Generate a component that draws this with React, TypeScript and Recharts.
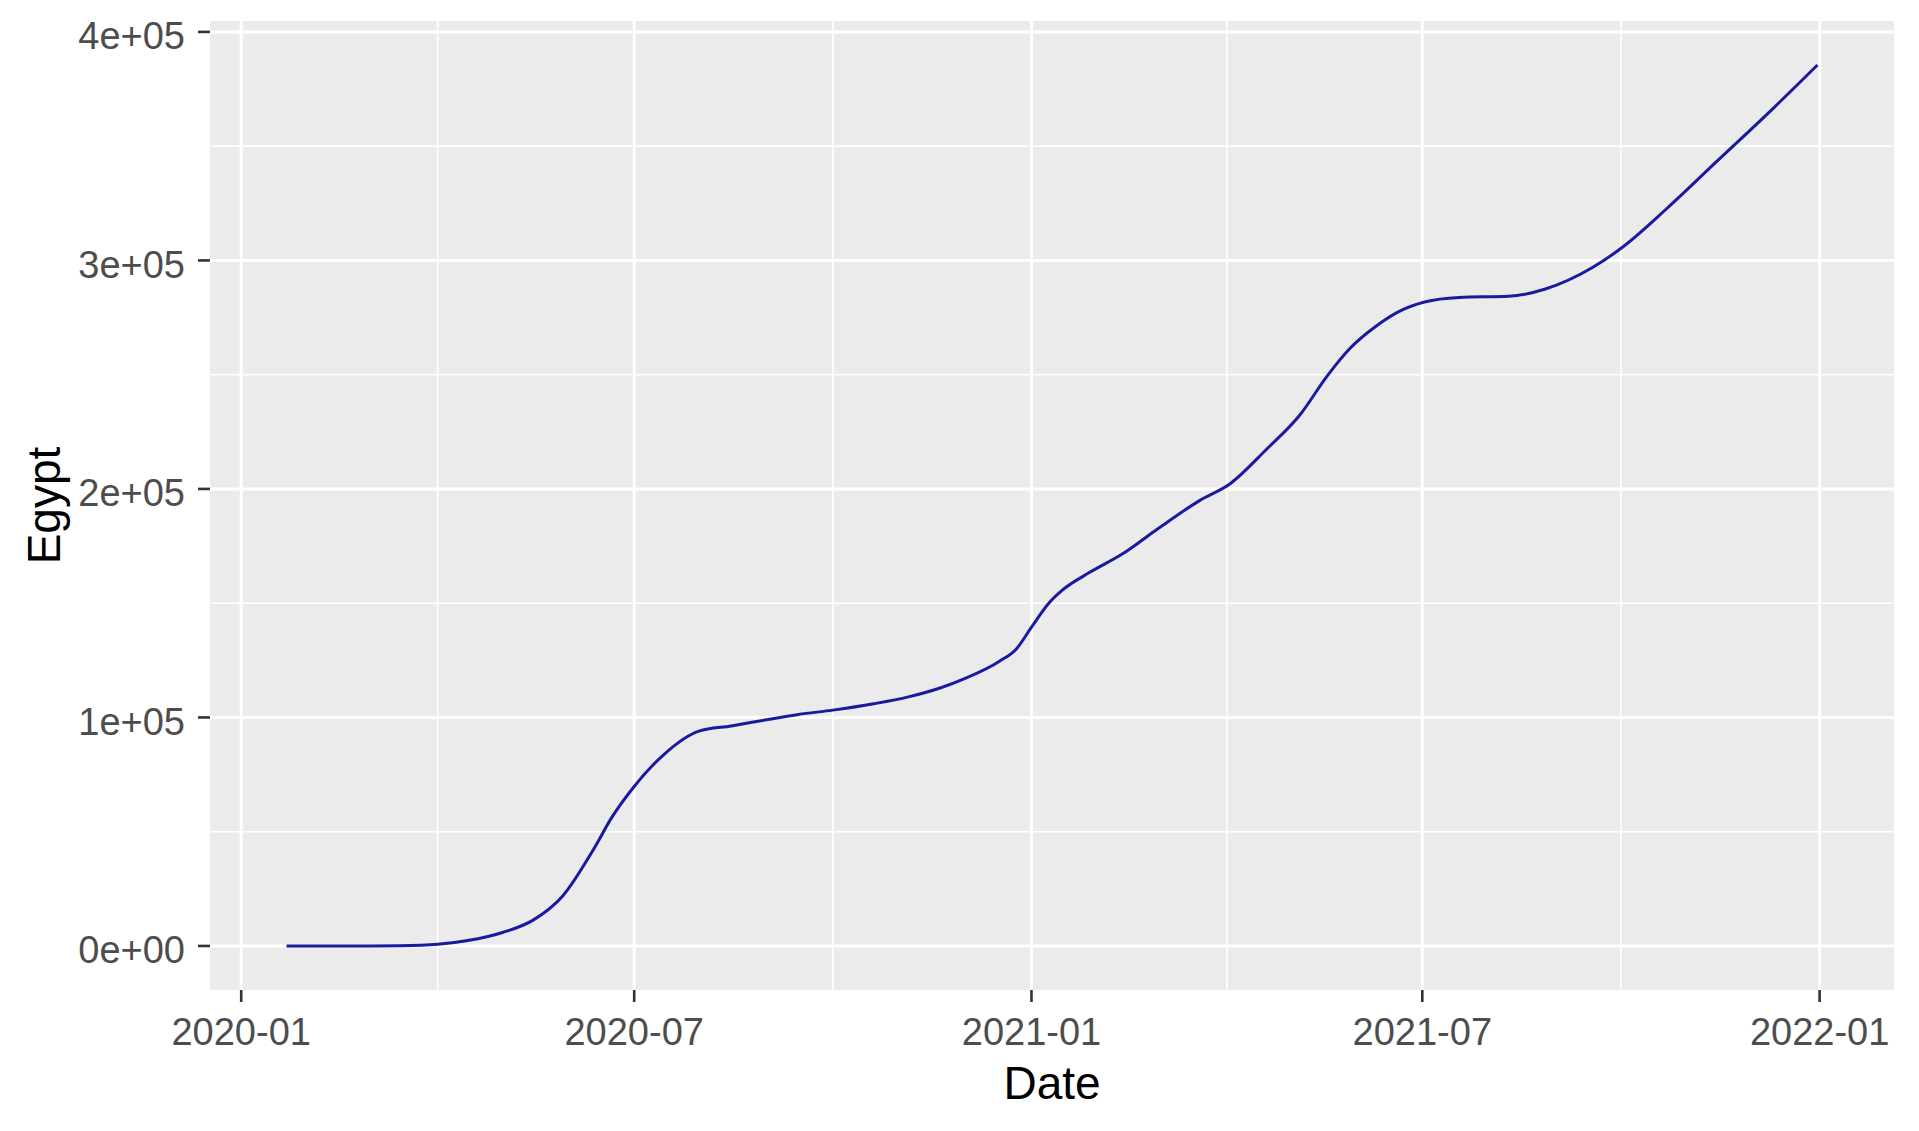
import { LineChart, Line, XAxis, YAxis, CartesianGrid } from 'recharts';

const FONT = '"Liberation Sans", Arial, sans-serif';

// cumulative cases
const dates = [
  '2020-01-22', '2020-02-14', '2020-03-01', '2020-03-14', '2020-04-01', '2020-04-15',
  '2020-05-01', '2020-05-15', '2020-05-29', '2020-06-12', '2020-06-21', '2020-07-01',
  '2020-07-15', '2020-07-31', '2020-08-15', '2020-09-01', '2020-09-15', '2020-10-01',
  '2020-10-20', '2020-11-05', '2020-11-20', '2020-12-01', '2020-12-17', '2020-12-25',
  '2021-01-01', '2021-01-09', '2021-01-15', '2021-01-28', '2021-02-12', '2021-03-01',
  '2021-03-20', '2021-04-03', '2021-04-20', '2021-05-05', '2021-05-18', '2021-05-28',
  '2021-06-10', '2021-06-21', '2021-07-02', '2021-07-18', '2021-08-10', '2021-08-27',
  '2021-09-18', '2021-10-02', '2021-10-22', '2021-11-14', '2021-12-11', '2021-12-31',
];
const cases = [
  0, 1, 2, 93, 710, 2350,
  5900, 11200, 22000, 42000, 56800, 69800,
  84000, 94000, 96300, 99100, 101300, 103200,
  106000, 109000, 113000, 117000, 124500, 130000,
  139500, 150000, 155500, 163500, 171500, 182900,
  195000, 202300, 217500, 232000, 249500, 261000,
  271500, 278000, 281800, 283800, 284300, 287500,
  297000, 306000, 322500, 343000, 367000, 385500,
];

const dateTicks = ['2020-01-01', '2020-07-01', '2021-01-01', '2021-07-01', '2022-01-01'];
const caseTicks = [0, 100000, 200000, 300000, 400000];

const toTime = (d: string) => Date.parse(d + 'T00:00:00Z');

const data = dates.map((d, i) => ({ date: toTime(d), egypt: cases[i] }));

const xMajor = dateTicks.map(toTime);
const xMinor = xMajor.slice(1).map((t, i) => (t + xMajor[i]) / 2);
const yMinor = caseTicks.slice(1).map((v, i) => (v + caseTicks[i]) / 2);

// ggplot-style 5% expansion
const tMin = data[0].date;
const tMax = data[data.length - 1].date;
const xPad = (tMax - tMin) * 0.05;
const yMin = Math.min(...cases);
const yMax = Math.max(...cases);
const yPad = (yMax - yMin) * 0.05;

function sci(v: number) {
  if (v === 0) return '0e+00';
  const e = Math.floor(Math.log10(Math.abs(v)));
  const m = v / Math.pow(10, e);
  return `${m}e+${String(e).padStart(2, '0')}`;
}

function yearMonth(t: number) {
  const d = new Date(t);
  return `${d.getUTCFullYear()}-${String(d.getUTCMonth() + 1).padStart(2, '0')}`;
}

const tickText = { fill: '#4D4D4D', fontSize: 38, fontFamily: FONT };
const tickMark = { stroke: '#333333', strokeWidth: 2.6 };

function XTitle(props: any) {
  const { x, y, width, height } = props.viewBox;
  return (
    <text x={x + width / 2} y={y + height - 32} textAnchor="middle" fill="#000" fontSize={46} fontFamily={FONT}>
      Date
    </text>
  );
}

function YTitle(props: any) {
  const { x, y, height } = props.viewBox;
  const cx = x + 60;
  const cy = y + height / 2;
  return (
    <text x={cx} y={cy} transform={`rotate(-90, ${cx}, ${cy})`} textAnchor="middle" fill="#000" fontSize={46} fontFamily={FONT}>
      Egypt
    </text>
  );
}

export default function App() {
  return (
    <div style={{ position: 'absolute', left: 0, top: 0, width: 1919, height: 1131, background: '#fff' }}>
      <LineChart width={1919} height={1131} data={data} margin={{ top: 21, right: 25, bottom: 0, left: 0 }}>
        <CartesianGrid
          horizontalValues={yMinor}
          verticalValues={xMinor}
          stroke="#FFFFFF"
          strokeWidth={1.6}
          fill="#EBEBEB"
          fillOpacity={1}
        />
        <CartesianGrid horizontalValues={caseTicks} verticalValues={xMajor} stroke="#FFFFFF" strokeWidth={3} />
        <XAxis
          type="number"
          dataKey="date"
          domain={[tMin - xPad, tMax + xPad]}
          allowDataOverflow
          ticks={xMajor}
          interval={0}
          tickFormatter={yearMonth}
          height={141}
          axisLine={false}
          tickSize={12}
          tickMargin={16}
          tickLine={tickMark}
          tick={tickText}
          label={<XTitle />}
        />
        <YAxis
          type="number"
          domain={[yMin - yPad, yMax + yPad]}
          allowDataOverflow
          ticks={caseTicks}
          interval={0}
          tickFormatter={sci}
          width={210}
          axisLine={false}
          tickSize={12}
          tickMargin={13}
          tickLine={tickMark}
          tick={{ ...tickText, dy: 4 }}
          label={<YTitle />}
        />
        <Line
          dataKey="egypt"
          type="monotone"
          stroke="#1a1aa0"
          strokeWidth={3}
          dot={false}
          activeDot={false}
          isAnimationActive={false}
        />
      </LineChart>
    </div>
  );
}
